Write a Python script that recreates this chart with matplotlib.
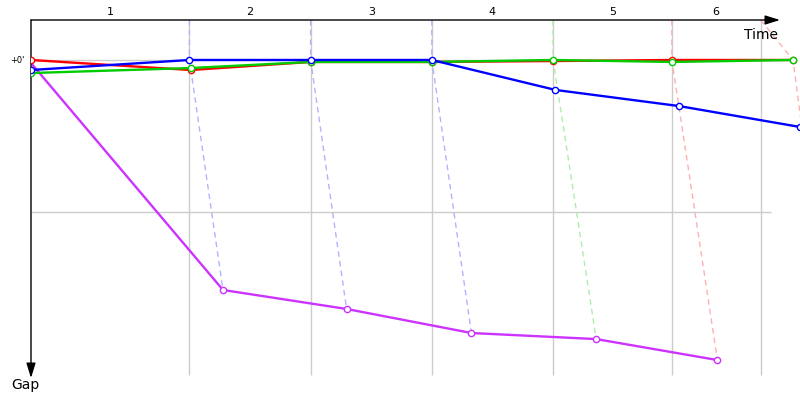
import matplotlib
matplotlib.use("Agg")
import matplotlib.pyplot as plt
import numpy as np

# lap lines (time in s) and labels
lap_t = [132, 233, 334, 435, 534, 608]
lap_labels = ["1", "2", "3", "4", "5", "6"]

# each car: crossing times and gap to leader (s)
blue_t = [0, 132, 233, 334, 437, 540, 641]
blue_g = [6.6, 0, 0, 0, 19.7, 30.3, 44.1]
red_t = [0, 133, 233, 334, 435, 534, 635]
red_g = [0, 6.6, 1.3, 1.3, 0.7, 0, 0]
green_t = [0, 133, 233, 334, 435, 534, 635]
green_g = [8.6, 5.3, 1.3, 1.3, 0, 1.3, 0]
magenta_t = [0, 160, 263, 367, 471, 572]
magenta_g = [2, 151.3, 163.8, 179.6, 183.6, 197.4]

# lapping lines: leader crossing -> lapped car
dash_top_t = [132, 233, 334, 435, 534, 608]
dash_lead_t = [132, 233, 334, 435, 534, 635]
dash_lead_g = [0, 0, 0, 0, 0, 0]
dash_end_t = [160, 263, 367, 471, 572, 669]
dash_end_g = [151.3, 163.8, 179.6, 183.6, 197.4, 205]
dash_cols = ["#b0b4ff", "#b0b4ff", "#b0b4ff", "#b0ecb0", "#ffb0b0", "#ffb0b0"]

grid_g = [0, 100]

fig = plt.figure(figsize=(8, 4), dpi=100)
ax = fig.add_axes([31/800, 22/400, 769/800, 358/400])
ax.set_xlim(0, 640.8)
top = -26.3
ax.set_ylim(209.2, top)

for s in ax.spines.values():
    s.set_visible(False)

# grid
ax.vlines(lap_t, top, 207, color="#cccccc", lw=1, zorder=1)
ax.hlines(grid_g, 0, 617, color="#cccccc", lw=1, zorder=1)

# lapping dashes
for i in range(len(dash_top_t)):
    ax.plot([dash_top_t[i], dash_lead_t[i], dash_end_t[i]],
            [top, dash_lead_g[i], dash_end_g[i]],
            color=dash_cols[i], lw=1, dashes=(4, 3), zorder=2)

mk = dict(marker="o", ms=4.5, mfc="white", mew=1)
ax.plot(magenta_t, magenta_g, color="#cc33ff", lw=1.7, zorder=3, markevery=list(range(1, len(magenta_t))), **mk)
ax.plot(red_t, red_g, color="#ff0000", lw=1.7, zorder=4, **mk)
ax.plot(green_t, green_g, color="#00cc00", lw=1.7, zorder=5, **mk)
ax.plot(blue_t, blue_g, color="#0000ff", lw=1.7, zorder=6, **mk)

# axes with arrows
ax.annotate("", xy=(0.974, 1), xytext=(0, 1), xycoords="axes fraction",
            arrowprops=dict(arrowstyle="-|>,head_length=0.9,head_width=0.28",
                            color="k", lw=1, mutation_scale=10, shrinkA=0, shrinkB=0))
ax.annotate("", xy=(0, 0), xytext=(0, 1), xycoords="axes fraction",
            arrowprops=dict(arrowstyle="-|>,head_length=0.9,head_width=0.28",
                            color="k", lw=1, mutation_scale=10, shrinkA=0, shrinkB=0))

ax.set_xticks([])
ax.set_yticks([0])
ax.set_yticklabels(["+0'"], fontsize=6)
ax.tick_params(axis="y", length=0, pad=5)

# lap labels between lines
edges = [0] + lap_t
for i, lab in enumerate(lap_labels):
    ax.text((edges[i] + edges[i + 1]) / 2, 1.008, lab, transform=ax.get_xaxis_transform(),
            ha="center", va="bottom", fontsize=8)

ax.text(0.972, 0.958, "Time", transform=ax.transAxes, ha="right", va="center", fontsize=10)
fig.text(25/800, 1 - 385/400, "Gap", ha="center", va="center", fontsize=10)

fig.savefig("out.png", dpi=100)
